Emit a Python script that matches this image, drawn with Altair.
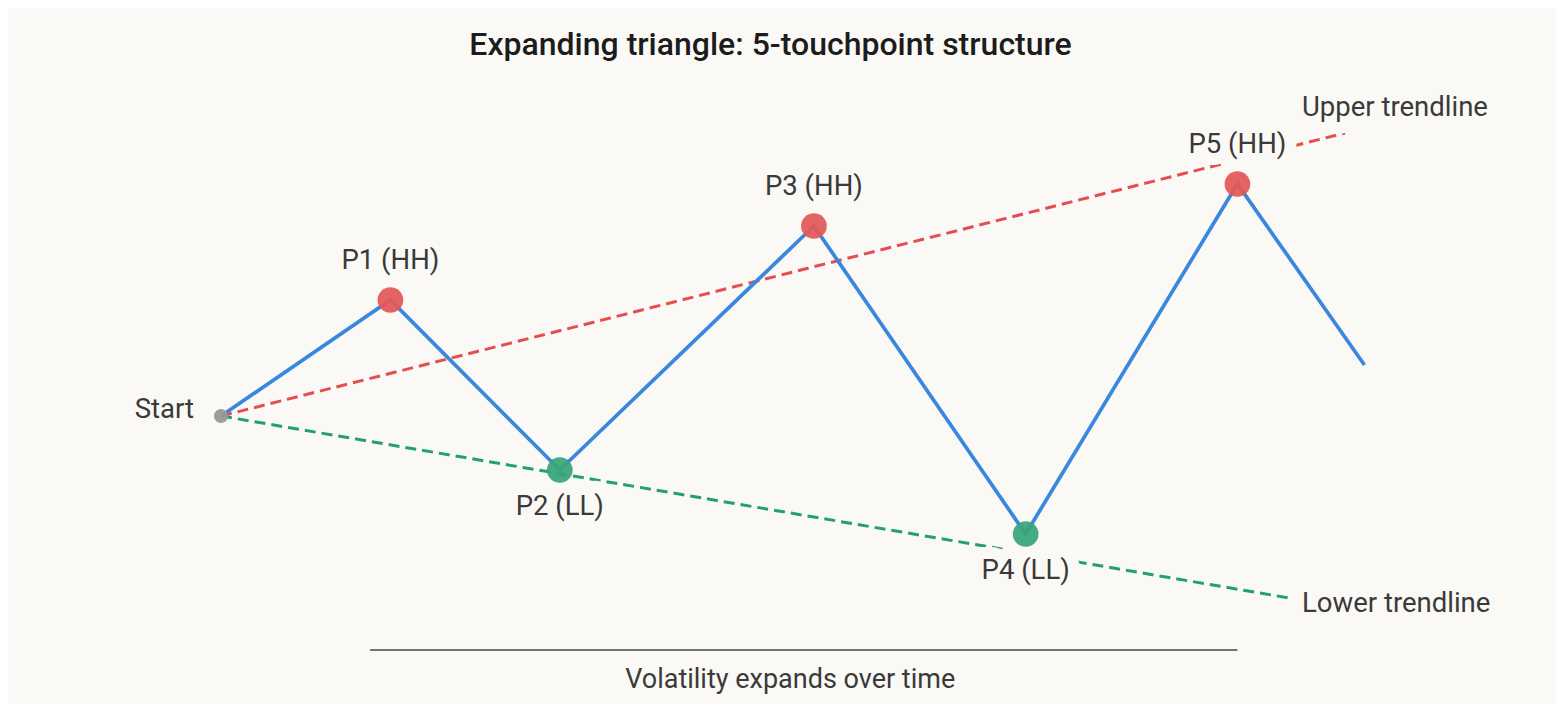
import altair as alt
import pandas as pd

# ---- data ----
t_vals = [0, 1, 2, 3.5, 4.75, 6, 6.75]
p_vals = [100, 105.8, 97.3, 109.5, 94.1, 111.6, 102.55]
names = ["Start", "P1 (HH)", "P2 (LL)", "P3 (HH)", "P4 (LL)", "P5 (HH)", "End"]
kinds = ["start", "high", "low", "high", "low", "high", "end"]

upper_t = [0, 6.635]
upper_p = [100, 114.15]
lower_t = [0, 6.34]
lower_p = [100, 90.85]
trend_names = ["Upper trendline", "Lower trendline"]

rule_t = [0.88, 6.0]
rule_p = [88.3]
caption_text = ["Volatility expands over time"]
caption_t = [3.36]
caption_p = [86.8]
title_text = "Expanding triangle: 5-touchpoint structure"

# ---- styling ----
BG = "#faf9f6"
BLUE = "#3a87de"
RED = "#e34f4f"
RED_PT = "#e35757"
GREEN = "#22a06f"
GREEN_PT = "#38a47a"
GREY = "#999999"
TXT = "#3a3a3a"
FONT = "Roboto"
LSIZE = 27.5

W, H = 1548, 696
xs = alt.Scale(domain=[-1.2574, 7.8807], nice=False, zero=False)
ys = alt.Scale(domain=[85.6, 120.4], nice=False, zero=False)

df = pd.DataFrame({"t": t_vals, "p": p_vals, "name": names, "kind": kinds,
                   "ord": list(range(len(t_vals)))})
up_df = pd.DataFrame({"t": upper_t, "p": upper_p})
lo_df = pd.DataFrame({"t": lower_t, "p": lower_p})
up_end = pd.DataFrame({"t": [upper_t[-1]], "p": [upper_p[-1]], "name": [trend_names[0]]})
lo_end = pd.DataFrame({"t": [lower_t[-1]], "p": [lower_p[-1]], "name": [trend_names[1]]})
rule_df = pd.DataFrame({"t": [rule_t[0]], "t2": [rule_t[1]], "p": rule_p})
cap_df = pd.DataFrame({"t": caption_t, "p": caption_p, "name": caption_text})
title_df = pd.DataFrame({"name": [title_text]})

X = alt.X("t:Q", scale=xs, axis=None)
Y = alt.Y("p:Q", scale=ys, axis=None)

upper = alt.Chart(up_df).mark_line(color=RED, strokeDash=[11, 6], strokeWidth=3).encode(x=X, y=Y)
lower = alt.Chart(lo_df).mark_line(color=GREEN, strokeDash=[11, 6], strokeWidth=3).encode(x=X, y=Y)

rule = alt.Chart(rule_df).mark_rule(color="#444444", strokeWidth=1.3).encode(
    x=X, x2="t2:Q", y=Y)

def labels(src, filt, halo, **kw):
    base = dict(font=FONT, fontSize=LSIZE, baseline="middle")
    base.update(kw)
    if halo:
        base.update(dict(color=BG, stroke=BG, strokeWidth=24, strokeJoin="round"))
    else:
        base.update(dict(color=TXT))
    c = alt.Chart(src)
    if filt is not None:
        c = c.transform_filter(filt)
    return c.mark_text(**base).encode(x=X, y=Y, text="name:N")

def all_labels(halo):
    return [
        labels(df, alt.datum.kind == "high", halo, align="center", dy=-39),
        labels(df, alt.datum.kind == "low", halo, align="center", dy=37),
        labels(df, alt.datum.kind == "start", halo, align="right", dx=-27, dy=-6),
        labels(up_end, None, halo, align="left", dx=-43, dy=-25),
        labels(lo_end, None, halo, align="left", dx=7, dy=5),
    ]

price = alt.Chart(df).mark_line(color=BLUE, strokeWidth=3.7).encode(
    x=X, y=Y, order="ord:Q")

highs = alt.Chart(df).transform_filter(alt.datum.kind == "high").mark_circle(
    color=RED_PT, size=660, opacity=0.93).encode(x=X, y=Y)
lows = alt.Chart(df).transform_filter(alt.datum.kind == "low").mark_circle(
    color=GREEN_PT, size=660, opacity=0.93).encode(x=X, y=Y)
start = alt.Chart(df).transform_filter(alt.datum.kind == "start").mark_circle(
    color=GREY, size=200, opacity=0.95).encode(x=X, y=Y)

caption = alt.Chart(cap_df).mark_text(font=FONT, fontSize=27, color=TXT,
                                      baseline="middle", align="center").encode(
    x=X, y=Y, text="name:N")

title = alt.Chart(title_df).mark_text(font=FONT, fontSize=32, fontWeight=500,
                                      color="#1c1c1c", baseline="middle",
                                      align="center").encode(
    x=alt.value(762.5), y=alt.value(37), text="name:N")

chart = alt.layer(
    upper, lower, rule, *all_labels(True), price, highs, lows, start,
    *all_labels(False), caption, title
).properties(
    width=W, height=H,
    autosize=alt.AutoSizeParams(type="none"),
    padding=0,
    background=BG,
).configure_view(stroke=None)

chart.save("out.html", embed_options={"renderer": "svg", "actions": False})
